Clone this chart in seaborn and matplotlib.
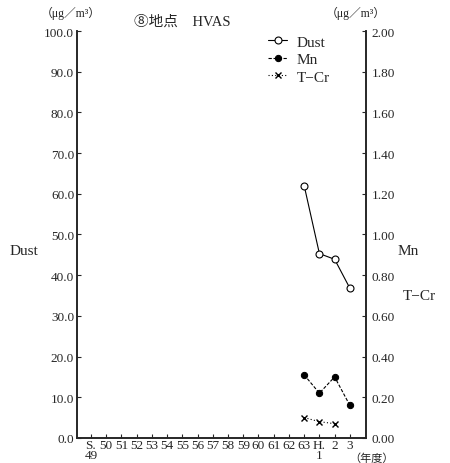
import matplotlib
matplotlib.use("Agg")
import matplotlib.pyplot as plt
import seaborn as sns
import pandas as pd

# Fiscal years on the x axis (Showa 49 .. Heisei 3)
year_labels = ["S.\n49", "50", "51", "52", "53", "54", "55", "56", "57", "58",
               "59", "60", "61", "62", "63", "H.\n1", "2", "3"]

# Dust (left axis, μg/m³)
dust_years = ["63", "H.\n1", "2", "3"]
dust_values = [62.0, 45.3, 43.9, 36.8]

# Mn (right axis, μg/m³)
mn_years = ["63", "H.\n1", "2", "3"]
mn_values = [0.31, 0.22, 0.30, 0.16]

# T-Cr (right axis, μg/m³)
tcr_years = ["63", "H.\n1", "2"]
tcr_values = [0.10, 0.08, 0.07]

left_ticks = [0, 10, 20, 30, 40, 50, 60, 70, 80, 90, 100]
right_ticks = [0.0, 0.2, 0.4, 0.6, 0.8, 1.0, 1.2, 1.4, 1.6, 1.8, 2.0]

sns.set_style("ticks")
plt.rcParams["font.family"] = ["Liberation Serif", "Noto Sans CJK JP", "DejaVu Sans"]
plt.rcParams["font.size"] = 9.5

pos = {lab: i for i, lab in enumerate(year_labels)}

dust_df = pd.DataFrame({"x": [pos[y] for y in dust_years], "v": dust_values})
mn_df = pd.DataFrame({"x": [pos[y] for y in mn_years], "v": mn_values})
tcr_df = pd.DataFrame({"x": [pos[y] for y in tcr_years], "v": tcr_values})

fig = plt.figure(figsize=(4.5, 4.64), dpi=100)
ax = fig.add_axes([0.171, 0.054, 0.642, 0.877])
ax2 = ax.twinx()

sns.lineplot(data=dust_df, x="x", y="v", ax=ax, color="black", linewidth=0.8,
             marker="o", markersize=5, markerfacecolor="white",
             markeredgecolor="black", markeredgewidth=0.8, label="Dust",
             legend=False)
sns.lineplot(data=mn_df, x="x", y="v", ax=ax2, color="black", linewidth=0.8,
             linestyle=(0, (3, 1.5)), marker="o", markersize=4.5,
             markerfacecolor="black", markeredgecolor="black", label="Mn",
             legend=False)
sns.lineplot(data=tcr_df, x="x", y="v", ax=ax2, color="black", linewidth=0.8,
             linestyle=(0, (1, 2)), marker="x", markersize=4.5,
             markeredgecolor="black", markeredgewidth=1.0, label="T−Cr",
             legend=False)

ax.set_xlim(-0.92, 18.05)
ax.set_ylim(0, 100)
ax2.set_ylim(0, 2.0)

ax.set_xticks(range(len(year_labels)))
ax.set_xticklabels(year_labels, linespacing=0.75, va="top")
ax.set_yticks(left_ticks)
ax.set_yticklabels([f"{t:.1f}" for t in left_ticks])
ax2.set_yticks(right_ticks)
ax2.set_yticklabels([f"{t:.2f}" for t in right_ticks])

for a in (ax, ax2):
    a.spines["top"].set_visible(False)
    for s in a.spines.values():
        s.set_linewidth(1.2)
    a.set_xlabel("")
    a.set_ylabel("")
ax.tick_params(axis="both", direction="in", length=3, width=0.8, pad=2)
ax2.tick_params(axis="y", direction="in", length=3, width=0.8, pad=4)
ax.tick_params(axis="x", pad=1)

# Axis names placed beside the value axes
fig.text(0.022, 0.457, "Dust", fontsize=11, va="center", ha="left")
fig.text(0.884, 0.457, "Mn", fontsize=11, va="center", ha="left")
fig.text(0.895, 0.36, "T−Cr", fontsize=11, va="center", ha="left")

fig.text(0.158, 0.97, "（μg／m³）", fontsize=8.5, ha="center", va="center")
fig.text(0.79, 0.97, "（μg／m³）", fontsize=8.5, ha="center", va="center")
fig.text(0.405, 0.953, "⑧地点　HVAS", fontsize=10.5, ha="center", va="center")
fig.text(0.825, 0.0, "（年度）", fontsize=8, ha="center", va="bottom")

handles = ax.get_lines()[:1] + ax2.get_lines()[:2]
ax2.legend(handles, ["Dust", "Mn", "T−Cr"], loc="upper left",
           bbox_to_anchor=(0.66, 0.99), frameon=False, handlelength=1.3,
           handletextpad=0.6, labelspacing=0.25, fontsize=11, borderaxespad=0,
           borderpad=0)

fig.savefig("out.png", dpi=100)
